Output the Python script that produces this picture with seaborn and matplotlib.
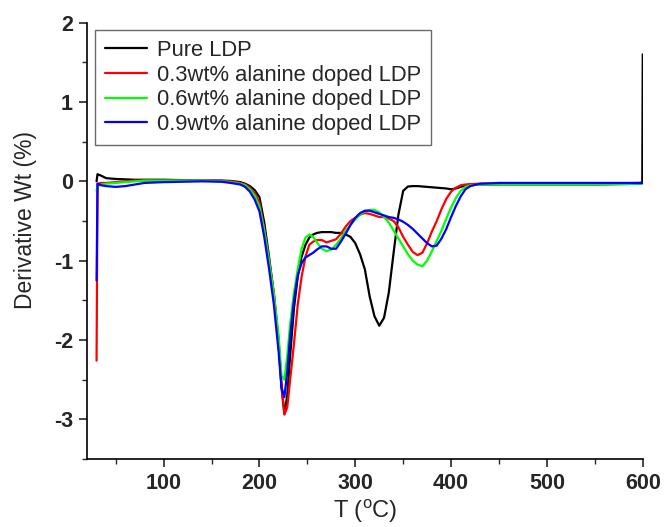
import numpy as np
import pandas as pd
import matplotlib
matplotlib.use("Agg")
import matplotlib.pyplot as plt
import seaborn as sns
from matplotlib.ticker import MultipleLocator

# ---------------- data ----------------
temperature = [30, 31, 35, 40, 50, 60, 70, 80, 100, 120, 140, 160, 170, 180, 185, 190, 195,
               200, 205, 210, 215, 220, 223, 226, 229, 232, 236, 240, 244, 248, 252, 256,
               260, 265, 270, 275, 280, 285, 290, 295, 300, 305, 310, 315, 320, 325, 330,
               335, 340, 345, 350, 355, 360, 365, 370, 375, 380, 385, 390, 395, 400, 405,
               410, 415, 420, 430, 450, 500, 550, 598, 599.5, 600]

pure_ldp = [0.0, 0.09, 0.07, 0.04, 0.03, 0.025, 0.02, 0.02, 0.02, 0.015, 0.01, 0.01, 0.005,
            -0.01, -0.03, -0.06, -0.11, -0.2, -0.52, -0.95, -1.42, -2.05, -2.6, -2.93, -2.7,
            -2.2, -1.6, -1.2, -0.95, -0.8, -0.71, -0.67, -0.65, -0.64, -0.64, -0.64, -0.65,
            -0.65, -0.67, -0.7, -0.78, -0.92, -1.11, -1.45, -1.7, -1.82, -1.72, -1.4, -0.9,
            -0.42, -0.12, -0.065, -0.06, -0.06, -0.065, -0.07, -0.075, -0.08, -0.085, -0.09,
            -0.1, -0.09, -0.07, -0.05, -0.04, -0.04, -0.04, -0.04, -0.04, -0.03, 0.0, 1.6]

ala_03 = [-2.26, -0.03, -0.02, -0.02, -0.01, 0.0, 0.01, 0.01, 0.01, 0.01, 0.01, 0.005, 0.0,
          -0.02, -0.04, -0.08, -0.15, -0.27, -0.6, -1.0, -1.4, -2.0, -2.55, -2.94, -2.85,
          -2.5, -2.05, -1.55, -1.2, -0.95, -0.8, -0.76, -0.74, -0.74, -0.77, -0.75, -0.73,
          -0.66, -0.57, -0.5, -0.46, -0.42, -0.4, -0.41, -0.43, -0.45, -0.45, -0.47, -0.5,
          -0.58, -0.7, -0.8, -0.89, -0.93, -0.9, -0.78, -0.63, -0.5, -0.35, -0.22, -0.13,
          -0.08, -0.05, -0.04, -0.035, -0.03, -0.03, -0.03, -0.03, -0.02, -0.02, -0.02]

ala_06 = [-0.12, -0.06, -0.04, -0.03, -0.02, -0.01, 0.0, 0.01, 0.01, 0.01, 0.01, 0.0, -0.01,
          -0.03, -0.05, -0.1, -0.18, -0.32, -0.62, -1.0, -1.42, -1.95, -2.45, -2.5, -2.2,
          -1.8, -1.4, -1.1, -0.85, -0.71, -0.67, -0.7, -0.77, -0.85, -0.88, -0.86, -0.8,
          -0.72, -0.62, -0.55, -0.48, -0.42, -0.38, -0.36, -0.36, -0.39, -0.45, -0.52, -0.62,
          -0.72, -0.82, -0.92, -1.0, -1.05, -1.07, -1.0, -0.88, -0.75, -0.62, -0.47, -0.33,
          -0.21, -0.12, -0.07, -0.05, -0.04, -0.04, -0.04, -0.04, -0.03, -0.03, -0.03]

ala_09 = [-1.25, -0.03, -0.05, -0.06, -0.07, -0.06, -0.04, -0.02, -0.01, -0.005, 0.0, -0.005,
          -0.02, -0.04, -0.07, -0.13, -0.23, -0.38, -0.7, -1.1, -1.55, -2.15, -2.6, -2.72,
          -2.4, -1.95, -1.5, -1.18, -1.03, -0.96, -0.93, -0.9, -0.86, -0.82, -0.82, -0.85,
          -0.85, -0.76, -0.66, -0.55, -0.46, -0.4, -0.37, -0.37, -0.39, -0.41, -0.43, -0.45,
          -0.46, -0.48, -0.51, -0.55, -0.6, -0.66, -0.72, -0.78, -0.82, -0.81, -0.72, -0.6,
          -0.45, -0.31, -0.19, -0.1, -0.06, -0.03, -0.02, -0.02, -0.02, -0.02, -0.02, -0.02]

series_names = ["Pure LDP", "0.3wt% alanine doped LDP",
                "0.6wt% alanine doped LDP", "0.9wt% alanine doped LDP"]
series_values = [pure_ldp, ala_03, ala_06, ala_09]
series_colors = ["#000000", "#FF0000", "#00FF00", "#0000FF"]

x_ticks = [100, 200, 300, 400, 500, 600]
y_ticks = [-3, -2, -1, 0, 1, 2]

frames = []
for name, vals in zip(series_names, series_values):
    frames.append(pd.DataFrame({"T": temperature, "dW": vals, "sample": name}))
df = pd.concat(frames, ignore_index=True)

# ---------------- plot ----------------
sns.set_style("ticks")
plt.rcParams["font.family"] = ["Liberation Sans", "DejaVu Sans"]
plt.rcParams["mathtext.default"] = "regular"
plt.rcParams["axes.unicode_minus"] = False

fig = plt.figure(figsize=(6.64, 5.27), dpi=100)
ax = fig.add_axes([0.131, 0.129, 0.837, 0.828])

sns.lineplot(data=df, x="T", y="dW", hue="sample", hue_order=series_names,
             palette=dict(zip(series_names, series_colors)), estimator=None,
             sort=True, linewidth=1.6, ax=ax)

ax.set_xlim(20, 600)
ax.set_ylim(-3.5, 2)
ax.set_xticks(x_ticks)
ax.set_yticks(y_ticks)
ax.xaxis.set_minor_locator(MultipleLocator(50))
ax.yaxis.set_minor_locator(MultipleLocator(0.5))
ax.tick_params(which="major", direction="out", length=6, width=1.2, labelsize=15.5, pad=4)
ax.tick_params(which="minor", direction="out", length=3.5, width=1.0)
for lbl in ax.get_xticklabels() + ax.get_yticklabels():
    lbl.set_fontweight("bold")
sns.despine(ax=ax)
for s in ["left", "bottom"]:
    ax.spines[s].set_linewidth(1.2)
    ax.spines[s].set_color("black")

ax.set_xlabel("T ($^{o}$C)", fontsize=17)
ax.xaxis.set_label_coords(0.5, -0.088)
ax.set_ylabel("Derivative Wt (%)", fontsize=16.5)
ax.yaxis.set_label_coords(-0.09, 0.548)

leg = ax.legend(loc="upper left", bbox_to_anchor=(0.014, 0.983), borderaxespad=0,
                fontsize=15.8, frameon=True, fancybox=False, handlelength=1.95,
                handletextpad=0.45, labelspacing=0.17, borderpad=0.45)
leg.get_frame().set_edgecolor("#444444")
leg.get_frame().set_linewidth(1.0)
for line in leg.get_lines():
    line.set_linewidth(1.6)

fig.savefig("out.png", dpi=100)
